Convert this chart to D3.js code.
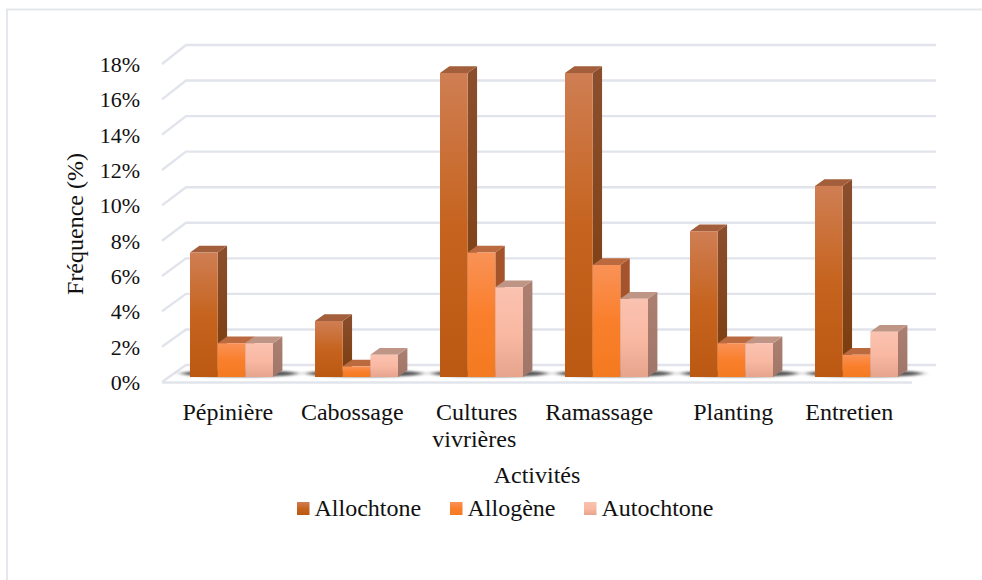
<!DOCTYPE html>
<html lang="fr">
<head>
<meta charset="utf-8">
<script src="https://cdn.jsdelivr.net/npm/d3@7"></script>
<style>
  html, body { margin: 0; padding: 0; background: #fff; }
  svg { display: block; }
  text { font-family: "Liberation Serif", serif; fill: #111; }
</style>
</head>
<body>
<svg id="chart" width="982" height="580"></svg>
<script>
const categories = ["Pépinière", "Cabossage", "Cultures vivrières", "Ramassage", "Planting", "Entretien"];
const allochtone = [7.0, 3.15, 17.1, 17.1, 8.2, 10.75];
const allogene = [1.9, 0.6, 7.0, 6.3, 1.9, 1.25];
const autochtone = [1.9, 1.25, 5.05, 4.4, 1.9, 2.55];
const seriesNames = ["Allochtone", "Allogène", "Autochtone"];
const yTicks = [0, 2, 4, 6, 8, 10, 12, 14, 16, 18];

const seriesValues = [allochtone, allogene, autochtone];
const seriesColors = [
  { front: ["#cf7e53", "#c6641f", "#bb5812"], side: ["#8b4f2e", "#7a3c0c"], top: "#a35f3b" },
  { front: ["#f99257", "#fa7f2c", "#f47a20"], side: ["#a4532a", "#a4532a"], top: "#bb6a40" },
  { front: ["#fac2b0", "#f9b9a3", "#e6a48d"], side: ["#ab8071", "#a0766a"], top: "#bf9585" }
];
const labelSize = 24;
const tickSize = 22;
// Horizontal fine-tuning of the category names, in pixels
const labelShift = new Map([["Ramassage", -2], ["Planting", 7.5], ["Entretien", -1]]);

const svg = d3.select("#chart");
const defs = svg.append("defs");

// Gradients for the bar faces, one set per series
seriesColors.forEach((c, i) => {
  const front = defs.append("linearGradient")
    .attr("id", `front-${i}`).attr("x1", 0).attr("y1", 0).attr("x2", 0).attr("y2", 1);
  c.front.forEach((col, k) => front.append("stop").attr("offset", `${k * 50}%`).attr("stop-color", col));
  const side = defs.append("linearGradient")
    .attr("id", `side-${i}`).attr("x1", 0).attr("y1", 0).attr("x2", 0).attr("y2", 1);
  c.side.forEach((col, k) => side.append("stop").attr("offset", `${k * 100}%`).attr("stop-color", col));
});
defs.append("filter").attr("id", "soft")
  .attr("x", "-30%").attr("y", "-200%").attr("width", "160%").attr("height", "500%")
  .append("feGaussianBlur").attr("stdDeviation", "4 1.1");

// Outer frame, open towards the right and bottom edges
svg.append("path")
  .attr("d", d3.line()([[7, 580], [7, 9.5], [982, 9.5]]))
  .attr("fill", "none").attr("stroke", "#e4e7ec").attr("stroke-width", 2);

// Scales: the wall sits behind the floor, bars stand near the front of the floor
const yWall = d3.scaleLinear().domain([0, 18]).range([365, 45]);
const yBar = d3.scaleLinear().domain([0, 18]).range([377, 57]);
const yLabel = d3.scaleLinear().domain([0, 18]).range([382, 64]);
const xBand = d3.scaleBand().domain(categories).range([169, 919]).paddingInner(0).paddingOuter(0);
const xSeries = d3.scaleBand().domain(d3.range(3)).range([21, 104]);
const xLabel = d3.scaleBand().domain(categories).range([165.5, 912.5]);

const depthX = 9.4, depthY = -6.7;
const wallX = [186, 936], floorFrontX = [162, 912], floorFrontY = 382.5;

// Gridlines on the wall, with the return along the left side
const grid = svg.append("g").attr("fill", "none").attr("stroke", "#e1e4eb").attr("stroke-width", 2.4);
yTicks.forEach(t => {
  const y = yWall(t);
  const pts = [[floorFrontX[0], yLabel(t)], [wallX[0], y], [wallX[1], y]];
  grid.append("path").attr("d", d3.line()(pts));
});
grid.append("path").attr("d", d3.line()([[floorFrontX[0], floorFrontY], [floorFrontX[1], floorFrontY]]));

// Soft floor shadows under each cluster, heavier on the right of the bars
svg.append("g").selectAll("ellipse").data(categories).join("ellipse")
  .attr("cx", d => xBand(d) + xSeries(1) + xSeries.bandwidth() / 2 + 8)
  .attr("cy", 373.5)
  .attr("rx", xSeries.bandwidth() * 1.5 + 16)
  .attr("ry", 3.6)
  .attr("fill", "#3c3c3c")
  .attr("opacity", 0.85)
  .attr("filter", "url(#soft)");

// Bars: side, top and front faces of each box
const w = xSeries.bandwidth();
const barRows = categories.flatMap((c, ci) => seriesValues.map((vals, si) => ({ c, si, v: vals[ci] })));
const bars = svg.append("g").selectAll("g").data(barRows).join("g");

bars.append("path")
  .attr("fill", d => `url(#side-${d.si})`)
  .attr("d", d => {
    const x = xBand(d.c) + xSeries(d.si) + w, t = yBar(d.v), b = yBar(0);
    return d3.line()([[x, t], [x + depthX, t + depthY], [x + depthX, b + depthY], [x, b]]) + "Z";
  });
bars.append("path")
  .attr("fill", d => seriesColors[d.si].top)
  .attr("d", d => {
    const x = xBand(d.c) + xSeries(d.si), t = yBar(d.v);
    return d3.line()([[x, t], [x + depthX, t + depthY], [x + w + depthX, t + depthY], [x + w, t]]) + "Z";
  });
bars.append("rect")
  .attr("x", d => xBand(d.c) + xSeries(d.si))
  .attr("y", d => yBar(d.v))
  .attr("width", w)
  .attr("height", d => yBar(0) - yBar(d.v))
  .attr("fill", d => `url(#front-${d.si})`);

// Value axis
const yAxis = svg.append("g").attr("transform", "translate(140,0.5)")
  .call(d3.axisLeft(yLabel).tickValues(yTicks).tickFormat(d => `${d}%`).tickSize(0).tickPadding(0));
yAxis.select(".domain").remove();
yAxis.selectAll("text").attr("font-size", tickSize).attr("font-family", '"Liberation Serif", serif').style("fill", "#111");

// Category axis, long names wrap onto two lines
const xAxis = svg.append("g").attr("transform", "translate(0,405)")
  .call(d3.axisBottom(xLabel).tickSize(0).tickPadding(0));
xAxis.select(".domain").remove();
xAxis.selectAll("text").each(function (d) {
  const t = d3.select(this).text(null).attr("font-size", labelSize)
    .attr("font-family", '"Liberation Serif", serif').attr("dy", null).attr("y", 14.5).style("fill", "#111");
  const dx = labelShift.get(d) || 0;
  d.split(" ").forEach((word, i) => {
    t.append("tspan").attr("x", i ? dx - 2.5 : dx).attr("dy", i ? 27 : 0).text(word);
  });
});

// Axis titles
svg.append("text")
  .attr("transform", "translate(83,224) rotate(-90)")
  .attr("text-anchor", "middle")
  .attr("font-size", labelSize)
  .text("Fréquence (%)");
svg.append("text")
  .attr("x", 537).attr("y", 483)
  .attr("text-anchor", "middle")
  .attr("font-size", labelSize)
  .text("Activités");

// Legend
const legendX = [297, 450, 584];
const legend = svg.append("g").selectAll("g").data(seriesNames).join("g")
  .attr("transform", (d, i) => `translate(${legendX[i]},502)`);
legend.append("rect")
  .attr("width", 12.5).attr("height", 13)
  .attr("fill", (d, i) => `url(#front-${i})`);
legend.append("text")
  .attr("x", 17.5).attr("y", 14)
  .attr("font-size", labelSize)
  .text(d => d);
</script>
</body>
</html>
